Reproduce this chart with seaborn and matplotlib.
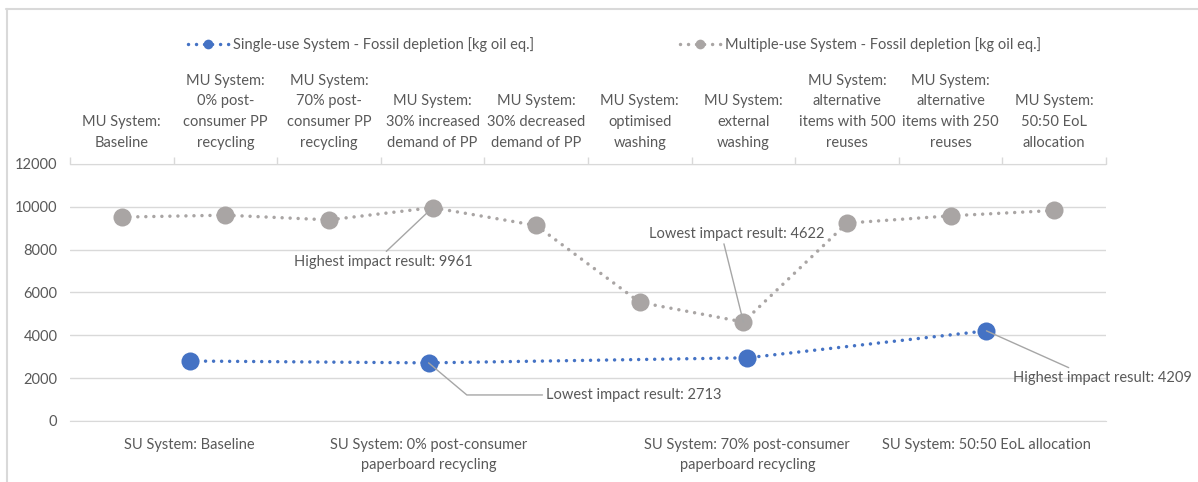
import numpy as np
import pandas as pd
import seaborn as sns
import matplotlib.pyplot as plt
from matplotlib.lines import Line2D

# bottom axis (single-use): 13 category slots, only 4 carry a label and a value
su_categories = ['', 'SU System: Baseline', '', '',
                 'SU System: 0% post-consumer\npaperboard recycling', '', '', '',
                 'SU System: 70% post-consumer\npaperboard recycling', '', '',
                 'SU System: 50:50 EoL allocation', '']
su_values = [None, 2800, None, None, 2713, None, None, None, 2950, None, None, 4209, None]

# top axis (multiple-use)
mu_categories = ['MU System:\nBaseline',
                 'MU System:\n0% post-\nconsumer PP\nrecycling',
                 'MU System:\n70% post-\nconsumer PP\nrecycling',
                 'MU System:\n30% increased\ndemand of PP',
                 'MU System:\n30% decreased\ndemand of PP',
                 'MU System:\noptimised\nwashing',
                 'MU System:\nexternal\nwashing',
                 'MU System:\nalternative\nitems with 500\nreuses',
                 'MU System:\nalternative\nitems with 250\nreuses',
                 'MU System:\n50:50 EoL\nallocation']
mu_values = [9520, 9610, 9390, 9961, 9130, 5540, 4622, 9240, 9580, 9828]

su_label = 'Single-use System - Fossil depletion [kg oil eq.]'
mu_label = 'Multiple-use System - Fossil depletion [kg oil eq.]'

blue = '#4472C4'
grey = '#A9A5A4'
txt = '#595959'
gridc = '#D9D9D9'

sns.set_style('white')
plt.rcParams['font.family'] = ['Lato', 'DejaVu Sans']
plt.rcParams['font.size'] = 10.5

su = pd.DataFrame({'cat': su_categories, 'val': su_values})
su['pos'] = np.arange(len(su))
su_pts = su.dropna(subset=['val'])
mu = pd.DataFrame({'cat': mu_categories, 'val': mu_values})
mu['pos'] = np.arange(len(mu))

fig = plt.figure(figsize=(11.98, 4.82), dpi=100)
ax = fig.add_axes([0.0584, 0.1266, 0.8648, 0.5332])
ax2 = ax.twiny()

dot = (0, (0.01, 2.3))
sns.lineplot(data=su_pts, x='pos', y='val', ax=ax, color=blue, marker='o',
             markersize=13, markeredgewidth=0, linewidth=2.5, linestyle=dot,
             dash_capstyle='round', legend=False, zorder=3)
sns.lineplot(data=mu, x='pos', y='val', ax=ax2, color=grey, marker='o',
             markersize=13, markeredgewidth=0, linewidth=2.5, linestyle=dot,
             dash_capstyle='round', legend=False, zorder=3)

ax.set_xlim(-0.5, len(su) - 0.5)
ax2.set_xlim(-0.5, len(mu) - 0.5)
ax.set_ylim(0, 12000)
ax.set_yticks(np.arange(0, 12001, 2000))
ax.yaxis.grid(True, color=gridc, linewidth=1)
ax.set_axisbelow(True)

ax.set_xticks(su_pts['pos'])
ax.set_xticklabels(su_pts['cat'], color=txt, linespacing=1.55)
ax.tick_params(axis='x', length=0, pad=12)
ax.tick_params(axis='y', length=0, pad=9, colors=txt)
ax.set_xlabel('')
ax.set_ylabel('')
ax2.set_xlabel('')
ax2.set_ylabel('')

ax2.set_xticks(np.arange(-0.5, len(mu), 1.0))
ax2.set_xticklabels([])
ax2.set_xticks(mu['pos'], minor=True)
ax2.set_xticklabels(mu['cat'], minor=True, color=txt, linespacing=1.62)
ax2.tick_params(axis='x', which='major', length=5, color=gridc, width=1)
ax2.tick_params(axis='x', which='minor', length=0, pad=10)

for a in (ax, ax2):
    for s in a.spines.values():
        s.set_visible(False)
ax.spines['bottom'].set_visible(True)
ax.spines['bottom'].set_color(gridc)
ax2.spines['top'].set_visible(True)
ax2.spines['top'].set_color(gridc)

# callouts
line_kw = dict(arrowstyle='-', color='#A6A6A6', lw=1, shrinkA=0, shrinkB=0)
ax2.annotate('Highest impact result: 9961', xy=(3, 9961), xytext=(2.52, 7440),
             ha='center', va='center', color=txt,
             arrowprops=dict(relpos=(0.5, 1), **line_kw))
ax2.annotate('Lowest impact result: 4622', xy=(6, 4622), xytext=(5.94, 8750),
             ha='center', va='center', color=txt,
             arrowprops=dict(relpos=(0.42, 0), **line_kw))
ax.annotate('Lowest impact result: 2713', xy=(4, 2713), xytext=(5.47, 1215),
            ha='left', va='center', color=txt,
            arrowprops=dict(relpos=(0, 0.5),
                            connectionstyle='angle,angleA=0,angleB=-40,rad=0', **line_kw))
ax.annotate('Highest impact result: 4209', xy=(11, 4209), xytext=(12.46, 2010),
            ha='center', va='center', color=txt,
            arrowprops=dict(relpos=(0.35, 1), **line_kw))

handles = [Line2D([], [], color=blue, linestyle=dot, dash_capstyle='round', linewidth=2.5,
                  marker='o', markersize=7, markeredgewidth=0),
           Line2D([], [], color=grey, linestyle=dot, dash_capstyle='round', linewidth=2.5,
                  marker='o', markersize=7, markeredgewidth=0)]
fig.legend(handles, [su_label, mu_label], loc='center', bbox_to_anchor=(0.513, 0.907),
           ncol=2, frameon=False, handlelength=2.8, handletextpad=0.3,
           columnspacing=10, labelcolor=txt)

# chart area border
fig.add_artist(Line2D([6 / 1198, 1], [1 - 8.5 / 482] * 2, transform=fig.transFigure,
                      color=gridc, linewidth=1.5))
fig.add_artist(Line2D([6.5 / 1198] * 2, [0, 1 - 8.5 / 482], transform=fig.transFigure,
                      color=gridc, linewidth=1.5))

fig.savefig('out.png', dpi=100)
